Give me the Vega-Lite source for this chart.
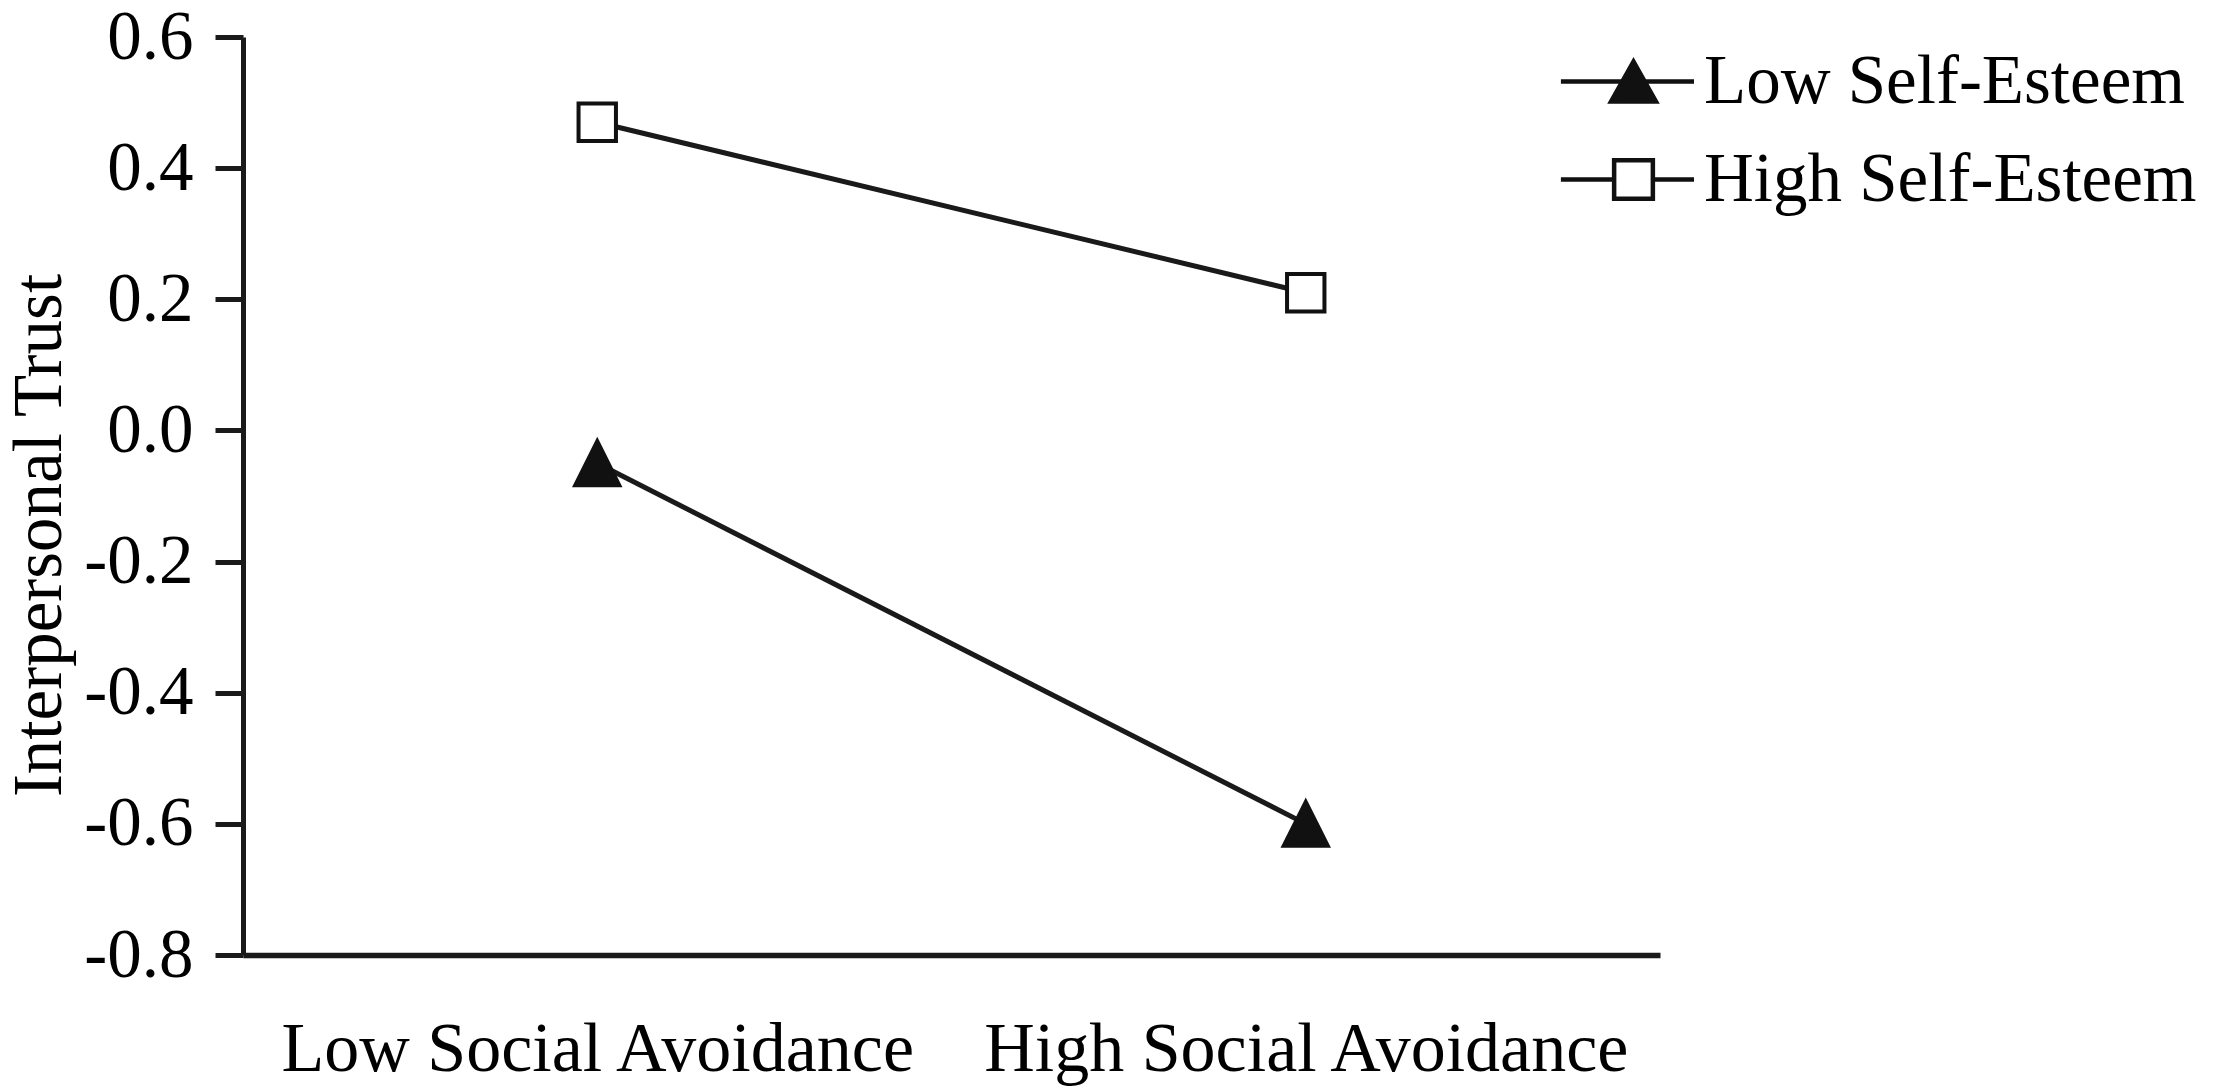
{
  "$schema": "https://vega.github.io/schema/vega-lite/v6.json",
  "width": 1417,
  "height": 918,
  "autosize": {"type": "none"},
  "padding": {"left": 243, "top": 37, "right": 568, "bottom": 135},
  "background": "white",
  "config": {"view": {"stroke": null}, "font": "Liberation Serif", "legend": {"symbolStrokeWidth": 4.5}},
  "data": {
    "values": [
      {"avoid": "Low Social Avoidance", "esteem": "Low Self-Esteem", "trust": -0.05},
      {"avoid": "High Social Avoidance", "esteem": "Low Self-Esteem", "trust": -0.6},
      {"avoid": "Low Social Avoidance", "esteem": "High Self-Esteem", "trust": 0.47},
      {"avoid": "High Social Avoidance", "esteem": "High Self-Esteem", "trust": 0.21}
    ]
  },
  "encoding": {
    "x": {
      "field": "avoid",
      "type": "nominal",
      "sort": ["Low Social Avoidance", "High Social Avoidance"],
      "scale": {"type": "point", "padding": 0.5},
      "axis": {
        "title": null,
        "ticks": false,
        "tickSize": 0,
        "grid": false,
        "domainWidth": 5.5,
        "domainColor": "#1a1a1a",
        "labelFont": "Liberation Serif",
        "labelFontSize": 70,
        "labelColor": "black",
        "labelPadding": 115,
        "labelBaseline": "alphabetic",
        "labelLimit": 2000,
        "labelAngle": 0
      }
    },
    "y": {
      "field": "trust",
      "type": "quantitative",
      "scale": {"domain": [-0.8, 0.6], "nice": false, "zero": false},
      "axis": {
        "title": "Interpersonal Trust",
        "values": [-0.8, -0.6, -0.4, -0.2, 0, 0.2, 0.4, 0.6],
        "labelExpr": "(datum.value < -0.001 ? '-' : '') + format(abs(datum.value), '.1f')",
        "grid": false,
        "tickSize": 28,
        "tickWidth": 5,
        "tickColor": "#1a1a1a",
        "domainWidth": 5,
        "domainColor": "#1a1a1a",
        "labelFont": "Liberation Serif",
        "labelFontSize": 69,
        "labelColor": "black",
        "labelPadding": 22,
        "titleFont": "Liberation Serif",
        "titleFontSize": 69,
        "titleFontWeight": "normal",
        "titleColor": "black",
        "titleAngle": -90,
        "titleX": -183,
        "titleY": 498,
        "titleAlign": "center",
        "titleBaseline": "alphabetic"
      }
    }
  },
  "layer": [
    {
      "mark": {"type": "line", "stroke": "#1a1a1a", "strokeWidth": 5},
      "encoding": {"detail": {"field": "esteem", "type": "nominal"}}
    },
    {
      "mark": {"type": "point", "filled": true, "size": 1936, "stroke": "#111111", "strokeWidth": 4, "opacity": 1},
      "encoding": {
        "shape": {
          "field": "esteem",
          "type": "nominal",
          "scale": {
            "domain": ["Low Self-Esteem", "High Self-Esteem"],
            "range": ["M0,-1L1,1H-1Z", "M-0.85,-0.85H0.85V0.85H-0.85Z"]
          },
          "legend": null
        },
        "fill": {
          "field": "esteem",
          "type": "nominal",
          "scale": {"domain": ["Low Self-Esteem", "High Self-Esteem"], "range": ["#111111", "white"]},
          "legend": null
        }
      }
    },
    {
      "transform": [{"filter": "false"}],
      "mark": {"type": "point", "filled": true, "size": 1936, "stroke": "#111111", "strokeWidth": 4.5, "opacity": 1},
      "encoding": {
        "shape": {
          "field": "esteem",
          "type": "nominal",
          "scale": {
            "domain": ["Low Self-Esteem", "High Self-Esteem"],
            "range": ["M-3.3,0H2.75M0,-0.91L1.02,0.91H-1.02Z", "M-3.3,0H-0.88M0.88,0H2.75M-0.88,-0.88H0.88V0.88H-0.88Z"]
          },
          "legend": {
            "title": null,
            "orient": "none",
            "legendX": 1356,
            "legendY": 10,
            "padding": 0,
            "symbolSize": 1936,
            "symbolStrokeWidth": 4.5,
            "symbolOpacity": 1,
            "labelFont": "Liberation Serif",
            "labelFontSize": 69,
            "labelColor": "black",
            "labelOffset": 36,
            "labelLimit": 2000,
            "rowPadding": 28
          }
        },
        "fill": {
          "field": "esteem",
          "type": "nominal",
          "scale": {"domain": ["Low Self-Esteem", "High Self-Esteem"], "range": ["#111111", "white"]},
          "legend": {
            "title": null,
            "orient": "none",
            "legendX": 1356,
            "legendY": 10,
            "padding": 0,
            "symbolSize": 1936,
            "symbolStrokeWidth": 4.5,
            "symbolOpacity": 1,
            "labelFont": "Liberation Serif",
            "labelFontSize": 69,
            "labelColor": "black",
            "labelOffset": 36,
            "labelLimit": 2000,
            "rowPadding": 28
          }
        },
        "stroke": {
          "field": "esteem",
          "type": "nominal",
          "scale": {"domain": ["Low Self-Esteem", "High Self-Esteem"], "range": ["#111111", "#111111"]},
          "legend": {
            "title": null,
            "orient": "none",
            "legendX": 1356,
            "legendY": 10,
            "padding": 0,
            "symbolSize": 1936,
            "symbolStrokeWidth": 4.5,
            "symbolOpacity": 1,
            "labelFont": "Liberation Serif",
            "labelFontSize": 69,
            "labelColor": "black",
            "labelOffset": 36,
            "labelLimit": 2000,
            "rowPadding": 28
          }
        }
      }
    }
  ],
  "resolve": {
    "scale": {"shape": "independent", "fill": "independent", "stroke": "independent"},
    "legend": {"shape": "independent", "fill": "independent", "stroke": "independent"}
  }
}
